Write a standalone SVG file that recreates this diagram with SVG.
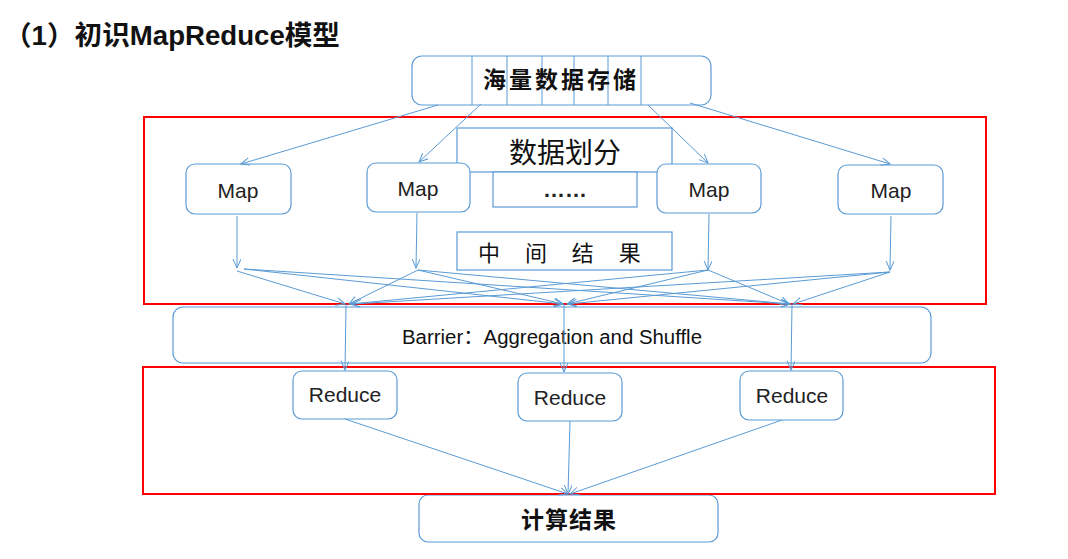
<svg xmlns="http://www.w3.org/2000/svg" width="1068" height="559" viewBox="0 0 1068 559">
<style>
.box{fill:#fff;stroke:#5B9BD5;stroke-width:1.2}
.div{stroke:#5B9BD5;stroke-width:1}
.red{fill:none;stroke:#FF0000;stroke-width:2}
.c{stroke:#5B9BD5;stroke-width:1;fill:none;marker-end:url(#arr)}
.lbl{font-family:"Liberation Sans","Noto Sans CJK SC",sans-serif;fill:#222;text-anchor:middle}
.cjk{font-family:"Noto Sans CJK SC","Liberation Sans",sans-serif;fill:#111;text-anchor:middle}
</style>
<defs>
<marker id="arr" markerUnits="userSpaceOnUse" markerWidth="12" markerHeight="10" refX="9" refY="4" orient="auto">
<path d="M0,0 L9,4 L0,8" fill="none" stroke="#5B9BD5" stroke-width="1"/>
</marker>
</defs>
<rect width="1068" height="559" fill="#fff"/>
<text x="4" y="45" font-family="Liberation Sans,'Noto Sans CJK SC',sans-serif" font-weight="bold" font-size="27" fill="#111" textLength="336" lengthAdjust="spacingAndGlyphs">（1）初识MapReduce模型</text>

<g id="storage">
<rect class="box" x="412" y="56" width="299" height="49" rx="10"/>
<line class="div" x1="472" y1="56" x2="472" y2="105"/>
<line class="div" x1="507" y1="56" x2="507" y2="105"/>
<line class="div" x1="542" y1="56" x2="542" y2="105"/>
<line class="div" x1="574" y1="56" x2="574" y2="105"/>
<line class="div" x1="608" y1="56" x2="608" y2="105"/>
<line class="div" x1="641" y1="56" x2="641" y2="105"/>
<text class="cjk" x="561" y="88" font-size="23" font-weight="bold" letter-spacing="3">海量数据存储</text>
</g>

<g id="split">
<rect class="box" x="457" y="128" width="215" height="44"/>
<text class="cjk" x="565" y="163" font-size="28">数据划分</text>
</g>
<g id="dots">
<rect class="box" x="493" y="172" width="144" height="35"/>
<text x="565" y="197" font-family="Liberation Sans,sans-serif" font-size="22" font-weight="bold" fill="#222" text-anchor="middle">……</text>
</g>
<g id="intermediate">
<rect class="box" x="457" y="232" width="215" height="38"/>
<text x="478" y="261" font-family="'Noto Sans CJK SC','Liberation Sans',sans-serif" font-size="22" fill="#111" letter-spacing="10">中 间 结 果</text>
</g>

<g id="map1"><rect class="box" x="186" y="164" width="105" height="50" rx="9"/><text class="lbl" x="238" y="198" font-size="21">Map</text></g>
<g id="map2"><rect class="box" x="367" y="163" width="103" height="49" rx="9"/><text class="lbl" x="418" y="196" font-size="21">Map</text></g>
<g id="map3"><rect class="box" x="657" y="164" width="104" height="49" rx="9"/><text class="lbl" x="709" y="197" font-size="21">Map</text></g>
<g id="map4"><rect class="box" x="838" y="165" width="105" height="49" rx="9"/><text class="lbl" x="891" y="198" font-size="21">Map</text></g>

<g id="barrier">
<rect class="box" x="173" y="307" width="758" height="56" rx="10"/>
<text x="402" y="344" font-family="Liberation Sans,'Noto Sans CJK SC',sans-serif" font-size="20" fill="#111" textLength="300" lengthAdjust="spacingAndGlyphs">Barrier：Aggregation and Shuffle</text>
</g>

<g id="reduce1"><rect class="box" x="293" y="371" width="104" height="48" rx="9"/><text class="lbl" x="345" y="402" font-size="21">Reduce</text></g>
<g id="reduce2"><rect class="box" x="518" y="373" width="104" height="48" rx="9"/><text class="lbl" x="570" y="405" font-size="21">Reduce</text></g>
<g id="reduce3"><rect class="box" x="740" y="371" width="103" height="49" rx="9"/><text class="lbl" x="792" y="403" font-size="21">Reduce</text></g>

<g id="result">
<rect class="box" x="419" y="495" width="299" height="47" rx="9"/>
<text class="cjk" x="569" y="528" font-size="23" font-weight="bold" letter-spacing="1">计算结果</text>
</g>

<g id="regions">
<rect class="red" x="144" y="117" width="842" height="187"/>
<rect class="red" x="143" y="367" width="852" height="127"/>
</g>

<g id="connectors">
<line class="c" x1="438" y1="105" x2="241" y2="164"/>
<line class="c" x1="481" y1="104" x2="419" y2="162"/>
<line class="c" x1="648" y1="105" x2="708" y2="163"/>
<line class="c" x1="690" y1="103" x2="890" y2="164"/>

<line class="c" x1="237" y1="216" x2="237" y2="268"/>
<line class="c" x1="417" y1="213" x2="416" y2="268"/>
<line class="c" x1="709" y1="214" x2="708" y2="270"/>
<line class="c" x1="891" y1="216" x2="890" y2="270"/>

<line class="c" x1="237" y1="271" x2="345" y2="304"/>
<line class="c" x1="244" y1="269" x2="563" y2="304"/>
<line class="c" x1="244" y1="269" x2="790" y2="304"/>
<line class="c" x1="418" y1="270" x2="349" y2="304"/>
<line class="c" x1="418" y1="270" x2="563" y2="304"/>
<line class="c" x1="418" y1="270" x2="790" y2="304"/>
<line class="c" x1="708" y1="270" x2="350" y2="304"/>
<line class="c" x1="708" y1="270" x2="567" y2="304"/>
<line class="c" x1="708" y1="270" x2="789" y2="304"/>
<line class="c" x1="890" y1="272" x2="352" y2="304"/>
<line class="c" x1="890" y1="272" x2="568" y2="304"/>
<line class="c" x1="890" y1="272" x2="793" y2="304"/>

<line class="c" x1="346" y1="304" x2="345" y2="370"/>
<line class="c" x1="564" y1="304" x2="564" y2="372"/>
<line class="c" x1="792" y1="304" x2="791" y2="370"/>

<line class="c" x1="345" y1="419" x2="568" y2="494"/>
<line class="c" x1="570" y1="421" x2="568" y2="494"/>
<line class="c" x1="782" y1="420" x2="570" y2="494"/>
</g>
</svg>
